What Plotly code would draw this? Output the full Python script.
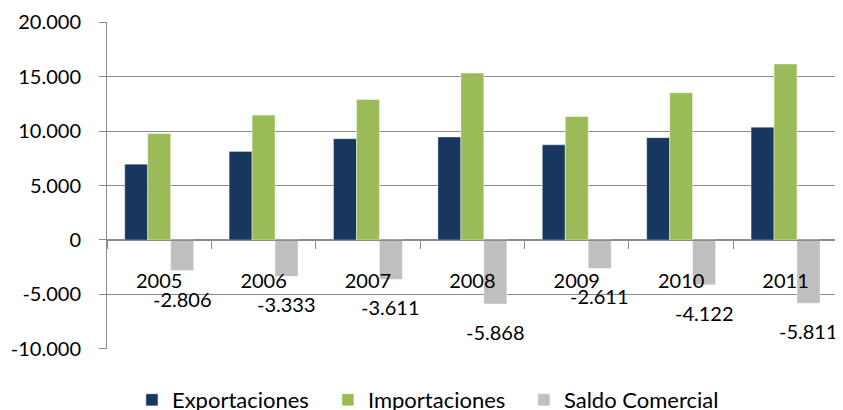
import plotly.graph_objects as go

years = ["2005", "2006", "2007", "2008", "2009", "2010", "2011"]
exportaciones = [6960, 8130, 9290, 9450, 8730, 9390, 10350]
importaciones = [9766, 11463, 12901, 15318, 11341, 13512, 16161]
saldo = [-2806, -3333, -3611, -5868, -2611, -4122, -5811]
y_ticks = [-10000, -5000, 0, 5000, 10000, 15000, 20000]


def fmt(v):
    s = f"{abs(v):,}".replace(",", ".")
    return ("-" if v < 0 else "") + s


BARGAP = 0.34
FONT = "Lato"
GRID = "#8C8C8C"

fig = go.Figure()
fig.add_bar(name="Exportaciones", x=years, y=exportaciones,
            marker=dict(color="#17375E", line=dict(color="rgba(255,255,255,0.6)", width=0.6)))
fig.add_bar(name="Importaciones", x=years, y=importaciones,
            marker=dict(color="#9BBB59", line=dict(color="rgba(255,255,240,0.8)", width=0.6)))
fig.add_bar(name="Saldo Comercial", x=years, y=saldo,
            marker=dict(color="#BFBFBF", line=dict(color="rgba(255,255,255,0.6)", width=0.6)))

offset = (1 - BARGAP) / 3
annotations = []
for i, v in enumerate(saldo):
    annotations.append(dict(x=i + offset, y=v, xref="x", yref="y", text=fmt(v),
                            showarrow=False, yanchor="middle", yshift=-28,
                            font=dict(family=FONT, size=20, color="black")))

fig.update_layout(
    width=835, height=402,
    margin=dict(l=99, r=3, t=14, b=61, autoexpand=False),
    barmode="group", bargap=BARGAP, bargroupgap=0,
    plot_bgcolor="white", paper_bgcolor="white",
    font=dict(family=FONT, size=20, color="black"),
    annotations=annotations,
    showlegend=True,
    legend=dict(orientation="h", x=0.034, xanchor="left", y=-0.156, yanchor="middle",
                entrywidth=151, entrywidthmode="pixels",
                font=dict(family=FONT, size=22, color="black")),
    xaxis=dict(anchor="free", position=1/3, showline=True, linecolor=GRID, linewidth=1,
               ticks="outside", tickson="boundaries", ticklen=8, tickcolor=GRID,
               showgrid=False, ticklabelstandoff=23, tickfont=dict(size=20)),
    yaxis=dict(range=[-10010, 20010], tickvals=y_ticks, ticktext=[fmt(v) for v in y_ticks],
               showgrid=True, gridcolor=GRID, gridwidth=1, zeroline=False,
               showline=True, linecolor=GRID, linewidth=1, ticks="outside", ticklen=7,
               tickcolor=GRID, ticklabelstandoff=14, tickfont=dict(size=20)),
)

fig.write_html("out.html")
